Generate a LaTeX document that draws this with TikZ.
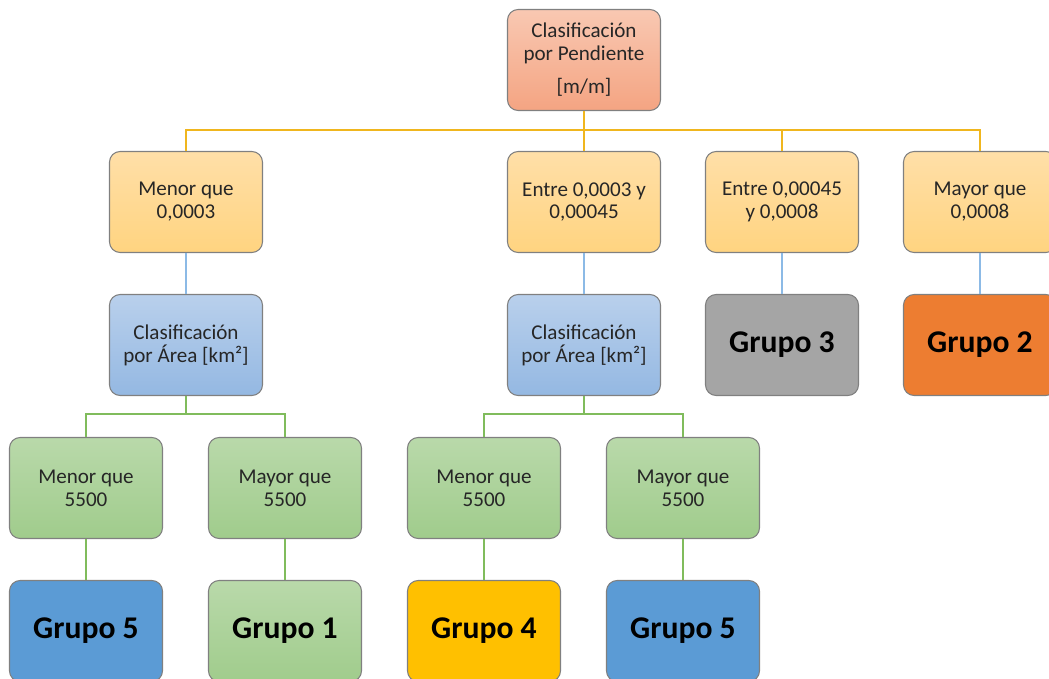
\documentclass[tikz,border=0pt]{standalone}
\usepackage{fontspec}
\setmainfont{Carlito}
\definecolor{rootTop}{RGB}{249,200,178}
\definecolor{rootBot}{RGB}{244,164,130}
\definecolor{slopeTop}{RGB}{255,223,168}
\definecolor{slopeBot}{RGB}{255,212,128}
\definecolor{areaTop}{RGB}{185,208,236}
\definecolor{areaBot}{RGB}{148,184,226}
\definecolor{sizeTop}{RGB}{185,217,170}
\definecolor{sizeBot}{RGB}{160,204,140}
\definecolor{grpBlue}{RGB}{91,155,213}
\definecolor{grpGold}{RGB}{255,192,0}
\definecolor{grpGray}{RGB}{165,165,165}
\definecolor{grpOrange}{RGB}{237,125,49}
\definecolor{linkYellow}{RGB}{240,182,30}
\definecolor{linkBlue}{RGB}{140,186,230}
\definecolor{linkGreen}{RGB}{128,188,92}
\usetikzlibrary{arrows.meta}

\begin{document}
\begin{tikzpicture}[
  x=0.02cm, y=-0.02cm,
  font=\fontsize{12}{13}\selectfont,
  box/.style={
    rectangle, rounded corners=6pt, draw=black!50, line width=0.6pt,
    minimum width=3.06cm, minimum height=2.02cm, align=center,
    inner sep=2pt, text=black!85
  },
  rootbox/.style={box, top color=rootTop, bottom color=rootBot},
  slopebox/.style={box, top color=slopeTop, bottom color=slopeBot},
  areabox/.style={box, top color=areaTop, bottom color=areaBot},
  sizebox/.style={box, top color=sizeTop, bottom color=sizeBot},
  groupbox/.style={box, font=\fontsize{18}{20}\selectfont\bfseries, text=black},
  ylink/.style={linkYellow, line width=1.2pt},
  blink/.style={linkBlue, line width=1.2pt},
  glink/.style={linkGreen, line width=1.2pt},
]
\useasboundingbox (0,0) rectangle (1049,679);
\clip (0,0) rectangle (1049,679);

% Root
\node[rootbox] (root) at (584,60)
  {Clasificación\\por Pendiente\\[6pt]{[m/m]}};

% Slope classes
\node[slopebox] (slopeA) at (186,202) {Menor que\\0,0003};
\node[slopebox] (slopeB) at (584,202) {Entre 0,0003 y\\0,00045};
\node[slopebox] (slopeC) at (782,202) {Entre 0,00045\\y 0,0008};
\node[slopebox] (slopeD) at (980,202) {Mayor que\\0,0008};

% Second level
\node[areabox] (areaA) at (186,345) {Clasificación\\por Área [km²]};
\node[areabox] (areaB) at (584,345) {Clasificación\\por Área [km²]};
\node[groupbox, fill=grpGray] (grp3) at (782,345) {Grupo 3};
\node[groupbox, fill=grpOrange] (grp2) at (980,345) {Grupo 2};

% Area classes
\node[sizebox] (sizeA1) at (86,488) {Menor que\\5500};
\node[sizebox] (sizeA2) at (285,488) {Mayor que\\5500};
\node[sizebox] (sizeB1) at (484,488) {Menor que\\5500};
\node[sizebox] (sizeB2) at (683,488) {Mayor que\\5500};

% Groups
\node[groupbox, fill=grpBlue] (grpA1) at (86,631) {Grupo 5};
\node[groupbox, top color=sizeTop, bottom color=sizeBot] (grpA2) at (285,631) {Grupo 1};
\node[groupbox, fill=grpGold] (grpB1) at (484,631) {Grupo 4};
\node[groupbox, fill=grpBlue] (grpB2) at (683,631) {Grupo 5};

% Connectors
\foreach \n in {slopeA,slopeB,slopeC,slopeD}
  \draw[ylink] (\n.north) -- ++(0,-21) -| (root.south);
\draw[blink] (slopeA) -- (areaA);
\draw[blink] (slopeB) -- (areaB);
\draw[blink] (slopeC) -- (grp3);
\draw[blink] (slopeD) -- (grp2);
\foreach \n in {sizeA1,sizeA2}
  \draw[glink] (\n.north) -- ++(0,-23) -| (areaA.south);
\foreach \n in {sizeB1,sizeB2}
  \draw[glink] (\n.north) -- ++(0,-23) -| (areaB.south);
\draw[glink] (sizeA1) -- (grpA1);
\draw[glink] (sizeA2) -- (grpA2);
\draw[glink] (sizeB1) -- (grpB1);
\draw[glink] (sizeB2) -- (grpB2);

\end{tikzpicture}
\end{document}
